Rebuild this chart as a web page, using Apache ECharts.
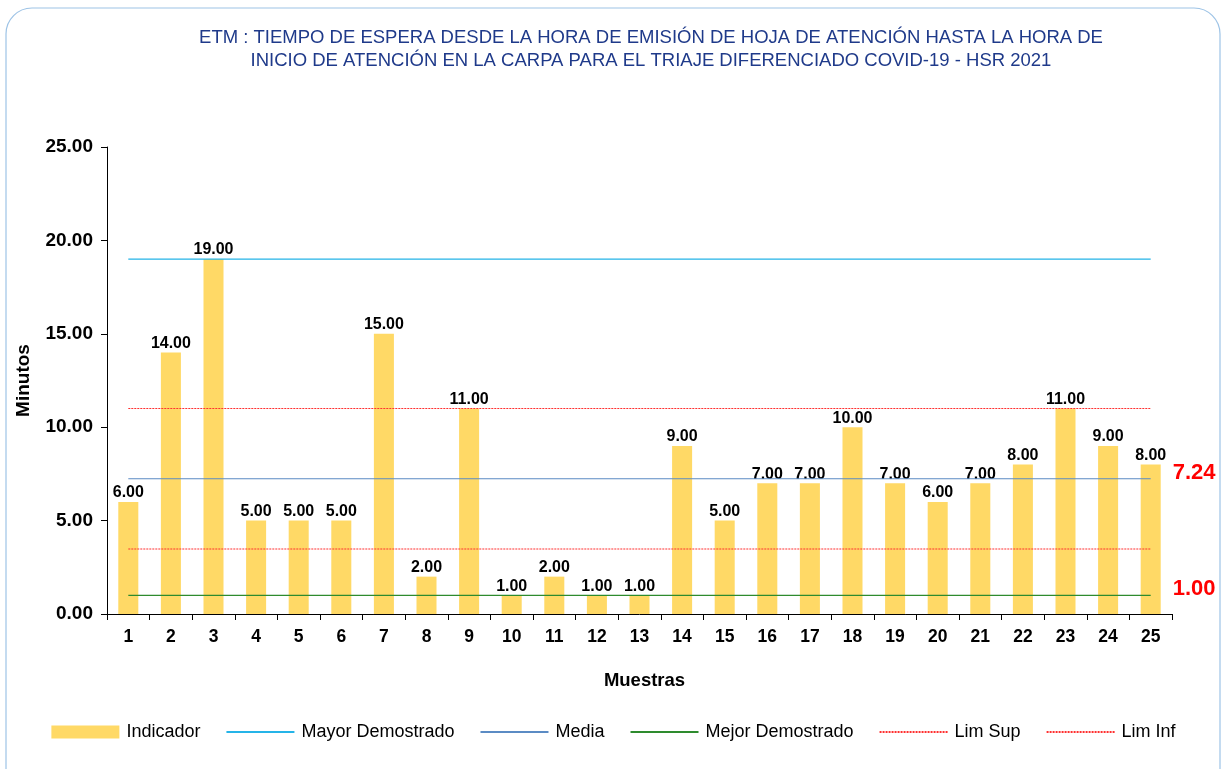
<!DOCTYPE html>
<html>
<head>
<meta charset="utf-8">
<script src="https://cdn.jsdelivr.net/npm/echarts@6/dist/echarts.min.js"></script>
<style>
  html, body { margin: 0; padding: 0; background: #fff; }
  #chart { width: 1227px; height: 769px; }
</style>
</head>
<body>
<div id="chart"></div>
<script>
var muestras = ['1','2','3','4','5','6','7','8','9','10','11','12','13','14','15','16','17','18','19','20','21','22','23','24','25'];
var indicador = [6, 14, 19, 5, 5, 5, 15, 2, 11, 1, 2, 1, 1, 9, 5, 7, 7, 10, 7, 6, 7, 8, 11, 9, 8];
var mayorDemostrado = 19;
var media = 7.24;
var mejorDemostrado = 1;
var limSup = 11;
var limInf = 3.48;
var yTicks = [0, 5, 10, 15, 20, 25];

function flat (v) {
  return muestras.map(function () { return v })
}

var myChart = echarts.init(document.getElementById('chart'));
var font = 'Liberation Sans, Arial, sans-serif';
var noDot = { color: 'rgba(0,0,0,0)', borderWidth: 0 };

function refLine (name, value, color, type, endLabel) {
  var s = {
    name: name,
    type: 'line',
    data: flat(value),
    symbol: 'none',
    silent: true,
    z: 5,
    lineStyle: { color: color, width: 1.2, type: type },
    itemStyle: { color: color }
  };
  if (endLabel) {
    s.endLabel = {
      show: true,
      formatter: function (p) { return p.value.toFixed(2) },
      color: '#FF0000',
      fontWeight: 'bold',
      fontSize: 22,
      fontFamily: font,
      distance: 22,
      offset: [0, -6]
    };
  }
  return s
}

var option = {
  backgroundColor: '#fff',
  animation: false,
  textStyle: { fontFamily: font },
  title: {
    text: 'ETM : TIEMPO DE ESPERA DESDE LA HORA DE EMISIÓN DE HOJA DE ATENCIÓN HASTA LA HORA DE\nINICIO DE ATENCIÓN EN LA CARPA PARA EL TRIAJE DIFERENCIADO COVID-19 - HSR 2021',
    left: 646,
    top: 21,
    textAlign: 'center',
    textStyle: { color: '#1F3A8A', fontSize: 18.5, fontWeight: 'normal', lineHeight: 23, fontFamily: font }
  },
  graphic: [{
    type: 'rect',
    shape: { x: 6, y: 8, width: 1214, height: 790, r: 26 },
    style: { fill: 'none', stroke: '#9DC3E6', lineWidth: 1.2 },
    silent: true,
    z: -1
  }],
  legend: {
    bottom: 23,
    left: 'center',
    itemGap: 25,
    itemWidth: 68,
    itemHeight: 13,
    textStyle: { fontSize: 18, color: '#000', fontFamily: font, padding: [0, 0, 0, 2] },
    data: [
      { name: 'Indicador', icon: 'rect' },
      { name: 'Mayor Demostrado', itemStyle: noDot },
      { name: 'Media', itemStyle: noDot },
      { name: 'Mejor Demostrado', itemStyle: noDot },
      { name: 'Lim Sup', itemStyle: noDot },
      { name: 'Lim Inf', itemStyle: noDot }
    ]
  },
  grid: { left: 107, right: 55, top: 147, bottom: 155 },
  xAxis: {
    type: 'category',
    data: muestras,
    name: 'Muestras',
    nameLocation: 'middle',
    nameGap: 57,
    nameTextStyle: { fontWeight: 'bold', fontSize: 18.5, color: '#000', padding: [0, 0, 0, 10] },
    axisLine: { lineStyle: { color: '#000', width: 1 } },
    axisTick: { show: true, length: 6, lineStyle: { color: '#000' } },
    axisLabel: { color: '#000', fontWeight: 'bold', fontSize: 17.5, margin: 14 }
  },
  yAxis: {
    type: 'value',
    min: yTicks[0],
    max: yTicks[yTicks.length - 1],
    interval: 5,
    name: 'Minutos',
    nameLocation: 'middle',
    nameGap: 74,
    nameRotate: 90,
    nameTextStyle: { fontWeight: 'bold', fontSize: 19, color: '#000' },
    axisLine: { show: true, lineStyle: { color: '#000', width: 1 } },
    axisTick: { show: true, length: 6, lineStyle: { color: '#000' } },
    splitLine: { show: false },
    axisLabel: {
      color: '#000', fontWeight: 'bold', fontSize: 19, margin: 14,
      formatter: function (v) { return v.toFixed(2) }
    }
  },
  series: [
    {
      name: 'Indicador',
      type: 'bar',
      data: indicador,
      barWidth: '47%',
      itemStyle: { color: '#FFD966' },
      label: {
        show: true,
        position: 'top',
        distance: 1,
        color: '#000',
        fontWeight: 'bold',
        fontSize: 16,
        formatter: function (p) { return p.value.toFixed(2) }
      }
    },
    refLine('Mayor Demostrado', mayorDemostrado, '#25B4E8', 'solid', false),
    refLine('Media', media, '#5B8BC4', 'solid', true),
    refLine('Mejor Demostrado', mejorDemostrado, '#2E8B2E', 'solid', true),
    refLine('Lim Sup', limSup, '#FF3030', [2, 1], false),
    refLine('Lim Inf', limInf, '#FF3030', [2, 1], false)
  ]
};

myChart.setOption(option);
</script>
</body>
</html>
